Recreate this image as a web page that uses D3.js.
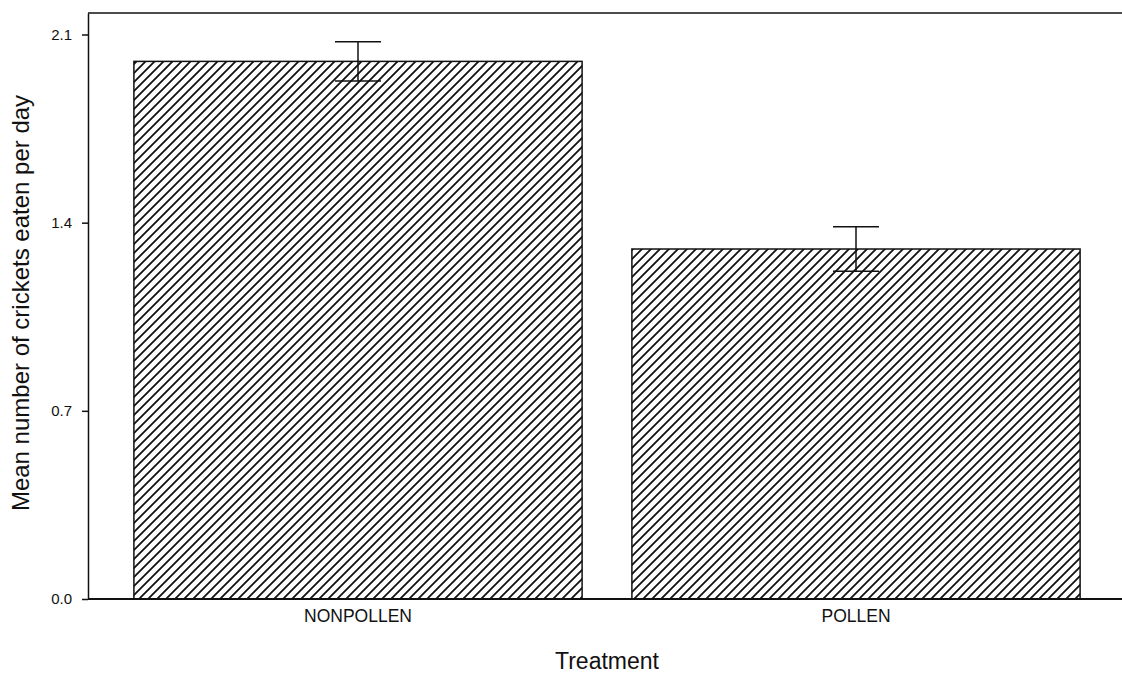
<!DOCTYPE html>
<html>
<head>
<meta charset="utf-8">
<script src="https://cdn.jsdelivr.net/npm/d3@7"></script>
<style>
  body { margin: 0; background: #fff; }
  svg { display: block; font-family: "Liberation Sans", Arial, sans-serif; }
</style>
</head>
<body>
<div id="chart"></div>
<script>
// Data
const treatments = ["NONPOLLEN", "POLLEN"];
const means = [2.0, 1.302];
const stdErrs = [0.073, 0.083];
const yTicks = [0, 0.7, 1.4, 2.1];

const W = 1122, H = 675;
const margin = {top: 13, right: 0, bottom: 76, left: 88};
const plotRight = 1105;

const svg = d3.select("#chart").append("svg")
    .attr("width", W)
    .attr("height", H);

svg.append("rect").attr("width", W).attr("height", H).attr("fill", "#fff");

// Hatch pattern
const defs = svg.append("defs");
const hs = 9;
const pat = defs.append("pattern")
    .attr("id", "hatch")
    .attr("patternUnits", "userSpaceOnUse")
    .attr("width", hs)
    .attr("height", hs);
pat.append("path")
    .attr("d", `M0,${hs} L${hs},0 M${-hs/2},${hs/2} L${hs/2},${-hs/2} M${hs/2},${hs*1.5} L${hs*1.5},${hs/2}`)
    .attr("stroke", "#111")
    .attr("stroke-width", 1.8);

// Scales
const y = d3.scaleLinear()
    .domain([0, 2.18])
    .range([H - margin.bottom, margin.top]);

const x = d3.scaleBand()
    .domain(treatments)
    .range([109, plotRight])
    .paddingInner(0.1)
    .paddingOuter(0.05);

// Bars
svg.selectAll(".bar")
    .data(treatments)
  .enter().append("rect")
    .attr("class", "bar")
    .attr("x", d => x(d))
    .attr("y", (d, i) => y(means[i]))
    .attr("width", x.bandwidth())
    .attr("height", (d, i) => y(0) - y(means[i]))
    .attr("fill", "url(#hatch)")
    .attr("stroke", "#111")
    .attr("stroke-width", 1.5);

// Error bars
const capW = 46;
const eb = svg.selectAll(".err")
    .data(treatments)
  .enter().append("g")
    .attr("class", "err")
    .attr("stroke", "#111")
    .attr("stroke-width", 1.5);

eb.append("line")
    .attr("x1", d => x(d) + x.bandwidth() / 2)
    .attr("x2", d => x(d) + x.bandwidth() / 2)
    .attr("y1", (d, i) => y(means[i] + stdErrs[i]))
    .attr("y2", (d, i) => y(means[i] - stdErrs[i]));
eb.append("line")
    .attr("x1", d => x(d) + x.bandwidth() / 2 - capW / 2)
    .attr("x2", d => x(d) + x.bandwidth() / 2 + capW / 2)
    .attr("y1", (d, i) => y(means[i] + stdErrs[i]))
    .attr("y2", (d, i) => y(means[i] + stdErrs[i]));
eb.append("line")
    .attr("x1", d => x(d) + x.bandwidth() / 2 - capW / 2)
    .attr("x2", d => x(d) + x.bandwidth() / 2 + capW / 2)
    .attr("y1", (d, i) => y(means[i] - stdErrs[i]))
    .attr("y2", (d, i) => y(means[i] - stdErrs[i]));

// Frame lines (top and bottom run off the right edge)
svg.append("line")
    .attr("x1", margin.left).attr("x2", W)
    .attr("y1", y.range()[1]).attr("y2", y.range()[1])
    .attr("stroke", "#111").attr("stroke-width", 1.5);
svg.append("line")
    .attr("x1", margin.left).attr("x2", W)
    .attr("y1", y(0)).attr("y2", y(0))
    .attr("stroke", "#111").attr("stroke-width", 1.8);

// Y axis
const yAxis = svg.append("g")
    .attr("transform", `translate(${margin.left},0)`)
    .call(d3.axisLeft(y)
        .tickValues(yTicks)
        .tickFormat(d3.format(".1f"))
        .tickSize(6)
        .tickPadding(10)
        .tickSizeOuter(0));
yAxis.select(".domain").attr("stroke", "#111").attr("stroke-width", 1.5);
yAxis.selectAll(".tick line").attr("stroke", "#111").attr("stroke-width", 1.5);
yAxis.selectAll(".tick text")
    .attr("fill", "#111")
    .style("font-size", "15px")
    .style("font-family", "Liberation Sans, Arial, sans-serif");

// X axis labels
const xAxis = svg.append("g")
    .attr("transform", `translate(0,${y(0)})`)
    .call(d3.axisBottom(x).tickSize(0).tickPadding(11));
xAxis.select(".domain").remove();
xAxis.selectAll(".tick text")
    .attr("fill", "#111")
    .style("font-size", "17.5px")
    .style("font-family", "Liberation Sans, Arial, sans-serif");

// Axis titles
svg.append("text")
    .attr("x", 607)
    .attr("y", 669)
    .attr("text-anchor", "middle")
    .attr("fill", "#111")
    .style("font-size", "23px")
    .text("Treatment");

svg.append("text")
    .attr("transform", `translate(29,${(y.range()[0] + y.range()[1]) / 2 - 3}) rotate(-90)`)
    .attr("text-anchor", "middle")
    .attr("fill", "#111")
    .style("font-size", "24px")
    .text("Mean number of crickets eaten per day");
</script>
</body>
</html>
